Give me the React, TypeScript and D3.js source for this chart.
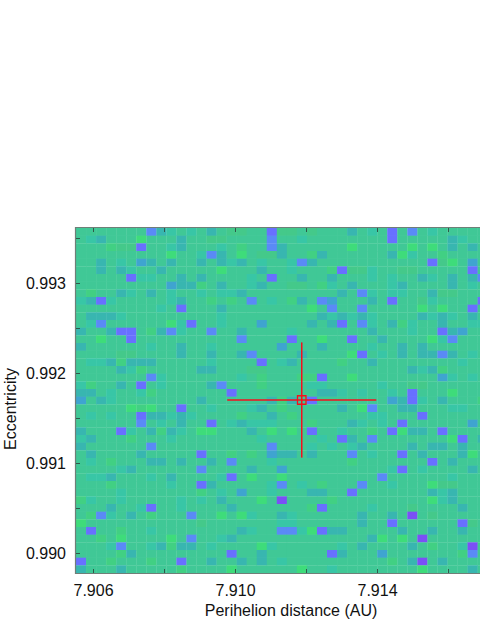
import { useEffect, useRef } from 'react';
import * as d3 from 'd3';

// colour level of each cell, 0 = brightest green ... 9 = violet (one string per row, top row first)
const gridRows = [
  '3333333754' + '3435322338' + '2232333534' + '3837343333' + '3',
  '3453330333' + '5332233337' + '3343333333' + '3833333543' + '3',
  '3331228334' + '5333431337' + '5333333033' + '3330303535' + '3',
  '3333333330' + '3347530322' + '5331533333' + '3504331333' + '3',
  '3353436535' + '3353545343' + '3475333333' + '3333382036' + '3',
  '3353543353' + '3333033353' + '3433318224' + '3322333338' + '3',
  '3333384433' + '5353333438' + '3353353334' + '3433543535' + '7',
  '3333333336' + '5513533453' + '3223143533' + '3453333534' + '3',
  '3133543534' + '3343445333' + '3333335374' + '3443352233' + '3',
  '4584333334' + '5331313734' + '3153763335' + '3833243333' + '8',
  '3333333343' + '8333533333' + '3330373373' + '3333030338' + '3',
  '3555433333' + '3333433333' + '3333545454' + '3333545435' + '3',
  '3473333330' + '4833433363' + '3335358374' + '3514335334' + '4',
  '5335883157' + '4337335333' + '3433333335' + '3334338563' + '3',
  '3303383333' + '3333337333' + '3833033833' + '5333304733' + '3',
  '5333333433' + '5334333333' + '6333533334' + '3353533333' + '3',
  '3333223333' + '5335335733' + '3353333083' + '4353557534' + '3',
  '3445155533' + '3334333383' + '4533331335' + '3333333343' + '3',
  '3333541333' + '3355333223' + '3333333333' + '3335451333' + '3',
  '3333333743' + '3333334313' + '3311833033' + '3333336434' + '3',
  '4133538343' + '3335733313' + '3334433333' + '4332233333' + '3',
  '5534334133' + '3333383333' + '3333554343' + '3438333033' + '3',
  '6354333333' + '3353333335' + '1538333333' + '3658435333' + '1',
  '3333301033' + '8334333453' + '1333335307' + '3355333443' + '3',
  '3434338554' + '5433331335' + '3133333334' + '4333833333' + '3',
  '3333337343' + '5338345444' + '3331333543' + '4383333336' + '3',
  '5333843515' + '4300333530' + '3038334331' + '3805538333' + '3',
  '4533313334' + '3333333343' + '3333438537' + '3333333083' + '5',
  '5333333733' + '3333333337' + '3334343453' + '3335355353' + '3',
  '3533335333' + '3383313136' + '5535333734' + '3383533350' + '3',
  '3431333553' + '5335373334' + '3333333133' + '3333383533' + '3',
  '3333453333' + '3373333533' + '6333333333' + '3483433335' + '3',
  '3445333435' + '3333483033' + '0333333333' + '7333333433' + '3',
  '3331333334' + '3385333334' + '7343133373' + '3433302233' + '3',
  '3333433333' + '3313436334' + '3335533833' + '3333354533' + '3',
  '1433433333' + '4343533303' + '9333313333' + '3333304533' + '3',
  '3335334833' + '4333353333' + '3331833334' + '3332333353' + '3',
  '3174353133' + '3733030433' + '5433333353' + '3539323333' + '3',
  '0333333333' + '3323333333' + '4433333353' + '3833333382' + '3',
  '3833133433' + '3333335433' + '7740855333' + '3353353353' + '3',
  '3313033330' + '3733453333' + '3333333335' + '0303933333' + '3',
  '3334733451' + '5534333304' + '3333334353' + '3335313349' + '3',
  '3333153333' + '3333383353' + '3333385333' + '6333333317' + '3',
  '8331333133' + '8335335353' + '4333333333' + '3135935333' + '3',
  '5333533333' + '1333303333' + '3303343333' + '3333033335' + '3',
];

const levelColors = ['#3edc7a', '#41d083', '#44c98a', '#40c896', '#38c6a6', '#38b6b0', '#3fa4d0', '#5a8af6', '#6870ff', '#7a50f6'];

const xTicks = [7.906, 7.908, 7.91, 7.912, 7.914, 7.916];
const xLabels = [7.906, 7.91, 7.914];
const yTicks = [0.99, 0.9905, 0.991, 0.9915, 0.992, 0.9925, 0.993, 0.9935];
const yLabels = [0.99, 0.991, 0.992, 0.993];

// best fit and its error bars
const fitPerihelion = 7.91188;
const fitEccentricity = 0.9917;
const errPerihelion = 0.0021;
const errEccentricity = 0.00064;

export default function App() {
  const svgRef = useRef<SVGSVGElement>(null);

  useEffect(() => {
    const svg = d3.select(svgRef.current);
    svg.selectAll('*').remove();

    const left = 76, top = 228, bottom = 573, right = 480;
    const font = '"Liberation Sans", Arial, sans-serif';

    const x = d3.scaleLinear().domain([7.906, 7.914]).range([93, 377]);
    const y = d3.scaleLinear().domain([0.99, 0.993]).range([553, 283]);

    const colCount = gridRows[0].length;
    const colX = d3.scaleBand<number>().domain(d3.range(colCount)).range([left, left + colCount * 10.04]);
    const rowY = d3.scaleBand<number>().domain(d3.range(gridRows.length)).range([top, bottom]);
    const color = d3.scaleOrdinal<number, string>().domain(d3.range(levelColors.length)).range(levelColors);

    // heat map
    svg.append('g')
      .selectAll('g')
      .data(gridRows)
      .join('g')
      .each(function (row, r) {
        d3.select(this)
          .selectAll('rect')
          .data(row.split('').map(Number))
          .join('rect')
          .attr('x', (d, c) => colX(c))
          .attr('y', rowY(r))
          .attr('width', colX.bandwidth() + 0.3)
          .attr('height', rowY.bandwidth() + 0.3)
          .attr('fill', d => color(d));
      });

    // frame
    svg.append('path')
      .attr('d', `M${right},${top - 0.5}H${left - 0.5}V${bottom + 0.5}H${right}`)
      .attr('fill', 'none')
      .attr('stroke', '#6f7f78')
      .attr('stroke-width', 1.2);

    // axes, with the ticks pointing into the plot
    const xAxis = svg.append('g')
      .attr('transform', `translate(0,${bottom})`)
      .call(d3.axisBottom(x).tickValues(xTicks).tickSize(-4).tickPadding(12)
        .tickFormat(d => (xLabels.includes(+d) ? d3.format('.3f')(+d) : '')));
    const xTop = svg.append('g')
      .attr('transform', `translate(0,${top})`)
      .call(d3.axisTop(x).tickValues(xTicks).tickSize(-4).tickFormat(() => ''));
    const yAxis = svg.append('g')
      .attr('transform', `translate(${left},0)`)
      .call(d3.axisLeft(y).tickValues(yTicks).tickSize(-4).tickPadding(10)
        .tickFormat(d => (yLabels.includes(+d) ? d3.format('.3f')(+d) : '')));

    [xAxis, xTop, yAxis].forEach(axis => {
      axis.select('.domain').remove();
      axis.selectAll('.tick line').attr('stroke', '#2f5a4a').attr('stroke-width', 1);
      axis.selectAll('text').attr('font-family', font).attr('font-size', 16).attr('fill', '#111');
    });

    svg.append('text')
      .attr('x', 291)
      .attr('y', 616)
      .attr('text-anchor', 'middle')
      .attr('font-family', font)
      .attr('font-size', 16)
      .attr('fill', '#111')
      .text('Perihelion distance (AU)');

    svg.append('text')
      .attr('transform', 'translate(16,409) rotate(-90)')
      .attr('text-anchor', 'middle')
      .attr('font-family', font)
      .attr('font-size', 16)
      .attr('fill', '#111')
      .text('Eccentricity');

    // best fit marker
    const marker = svg.append('g').attr('stroke', '#f5101c').attr('fill', 'none');
    marker.append('line')
      .attr('x1', x(fitPerihelion - errPerihelion))
      .attr('x2', x(fitPerihelion + errPerihelion))
      .attr('y1', y(fitEccentricity))
      .attr('y2', y(fitEccentricity))
      .attr('stroke-width', 1.5);
    marker.append('line')
      .attr('x1', x(fitPerihelion))
      .attr('x2', x(fitPerihelion))
      .attr('y1', y(fitEccentricity - errEccentricity))
      .attr('y2', y(fitEccentricity + errEccentricity))
      .attr('stroke-width', 1.5);
    marker.append('path')
      .attr('d', d3.symbol(d3.symbolSquare, 72)())
      .attr('transform', `translate(${x(fitPerihelion)},${y(fitEccentricity)})`)
      .attr('stroke-width', 1.3);
  }, []);

  return (
    <svg
      ref={svgRef}
      width={480}
      height={621}
      style={{ position: 'absolute', left: 0, top: 0, background: '#fff' }}
    />
  );
}
